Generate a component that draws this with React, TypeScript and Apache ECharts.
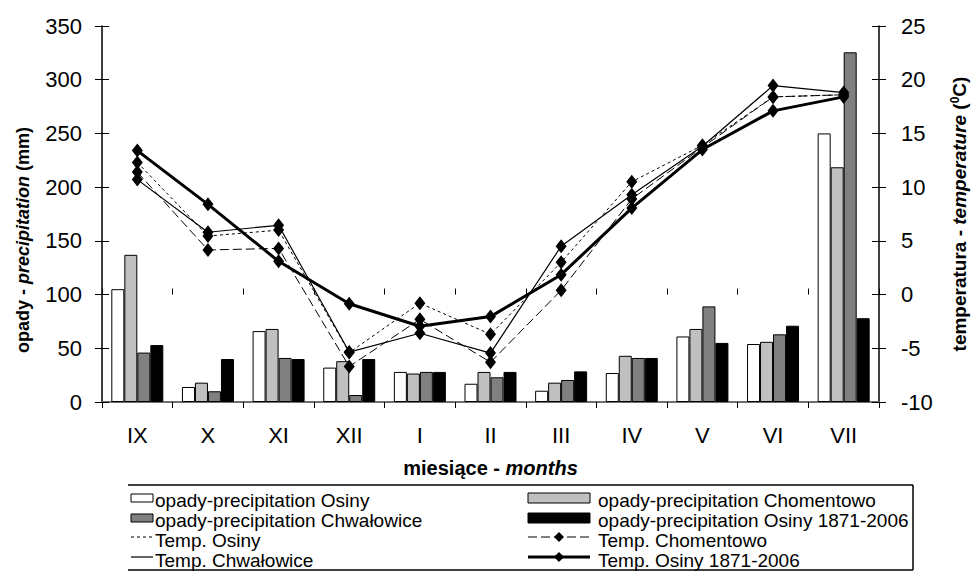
import React, { useEffect, useRef } from 'react';
import * as echarts from 'echarts';

const months = ['IX', 'X', 'XI', 'XII', 'I', 'II', 'III', 'IV', 'V', 'VI', 'VII'];

const precipOsiny = [105, 14, 66, 32, 28, 17, 10.5, 27, 61, 54, 250];
const precipChomentowo = [137, 18, 68, 38, 26.5, 28, 18, 43, 68, 56, 218.5];
const precipChwalowice = [46, 10, 41, 6.5, 28, 23, 20.5, 41, 89, 63, 325.5];
const precipOsinyLong = [53, 40, 40, 40, 28, 28, 28.5, 41, 55, 71, 78];

const tempOsiny = [12.3, 5.45, 6.0, -5.4, -0.8, -3.7, 3.0, 10.5, 13.9, 18.4, 18.6];
const tempChomentowo = [11.4, 4.15, 4.3, -6.7, -2.3, -6.3, 0.4, 8.9, 13.7, 18.4, 18.6];
const tempChwalowice = [10.7, 5.8, 6.45, -5.35, -3.6, -5.45, 4.5, 9.3, 13.8, 19.45, 18.8];
const tempOsinyLong = [13.4, 8.4, 3.1, -0.85, -2.95, -2.05, 1.85, 8.05, 13.5, 17.1, 18.4];

const seriesNames = [
  'opady-precipitation Osiny',
  'opady-precipitation Chomentowo',
  'opady-precipitation Chwałowice',
  'opady-precipitation Osiny 1871-2006',
  'Temp. Osiny',
  'Temp. Chomentowo',
  'Temp. Chwałowice',
  'Temp. Osiny 1871-2006',
];

const FONT = '"Liberation Sans", Arial, sans-serif';

const barColors = ['#ffffff', '#c0c0c0', '#808080', '#000000'];
const lineDash: any[] = [[3, 3], [9, 4], 'solid', 'solid'];
const lineWidths = [1, 1, 1.2, 3];

export default function App() {
  const ref = useRef<HTMLDivElement>(null);

  useEffect(() => {
    if (!ref.current) return;
    const chart = echarts.init(ref.current, undefined, { renderer: 'svg' });

    const precip = [precipOsiny, precipChomentowo, precipChwalowice, precipOsinyLong];
    const temps = [tempOsiny, tempChomentowo, tempChwalowice, tempOsinyLong];

    const barSeries = precip.map((d, i) => ({
      name: seriesNames[i],
      type: 'bar',
      xAxisIndex: 0,
      yAxisIndex: 0,
      data: d,
      barWidth: 13,
      barGap: '0%',
      itemStyle: { color: barColors[i], borderColor: '#000', borderWidth: 1 },
      z: 2,
    }));

    const lineSeries = temps.map((d, i) => ({
      name: seriesNames[4 + i],
      type: 'line',
      xAxisIndex: 0,
      yAxisIndex: 1,
      data: d,
      symbol: 'diamond',
      symbolSize: [11, 14],
      itemStyle: { color: '#000' },
      lineStyle: { color: '#000', width: lineWidths[i], type: lineDash[i] },
      z: 5 + i,
    }));

    // legend drawn with graphic elements
    const LX1 = 131, LX2 = 153, LT = 155;
    const RX1 = 528, RX2 = 590, RT = 598;
    const rowY = [500, 520, 540, 560];
    const boxTop = 485, boxBottom = 570, boxLeft = 128, boxRight = 913;
    const graphics: any[] = [
      { type: 'line', shape: { x1: boxLeft, y1: boxTop, x2: boxRight, y2: boxTop }, style: { stroke: '#000', lineWidth: 1.5 } },
      { type: 'line', shape: { x1: boxLeft, y1: boxBottom, x2: boxRight, y2: boxBottom }, style: { stroke: '#000', lineWidth: 1.5 } },
      { type: 'line', shape: { x1: boxRight, y1: boxTop, x2: boxRight, y2: boxBottom }, style: { stroke: '#000', lineWidth: 1.5 } },
    ];
    seriesNames.forEach((name, idx) => {
      const col = idx % 2;
      const row = Math.floor(idx / 2);
      const y = rowY[row];
      const x1 = col === 0 ? LX1 : RX1;
      const x2 = col === 0 ? LX2 : RX2;
      const tx = col === 0 ? LT : RT;
      if (idx < 4) {
        const h = col === 0 ? 8 : 10;
        graphics.push({
          type: 'rect',
          shape: { x: x1, y: y - 2 - h / 2, width: x2 - x1, height: h },
          style: { fill: barColors[idx], stroke: '#000', lineWidth: 1 },
        });
      } else {
        const k = idx - 4;
        const dash = lineDash[k] === 'solid' ? null : lineDash[k];
        graphics.push({
          type: 'line',
          shape: { x1, y1: y - 3, x2, y2: y - 3 },
          style: { stroke: '#000', lineWidth: lineWidths[k], lineDash: dash },
        });
        if (col === 1) {
          const cx = (x1 + x2) / 2;
          graphics.push({
            type: 'polygon',
            shape: { points: [[cx, y - 8], [cx + 5, y - 3], [cx, y + 2], [cx - 5, y - 3]] },
            style: { fill: '#000' },
          });
        }
      }
      graphics.push({
        type: 'text',
        x: tx,
        y,
        style: { text: name, fontSize: 19, fontFamily: FONT, fill: '#000', verticalAlign: 'middle', align: 'left' },
      });
    });

    const axisCommon = {
      axisLine: { show: true, lineStyle: { color: '#000', width: 1.5 } },
      splitLine: { show: false },
    };

    const option: any = {
      animation: false,
      backgroundColor: '#fff',
      textStyle: { fontFamily: FONT },
      grid: { left: 102, right: 82, top: 26, bottom: 170, containLabel: false },
      xAxis: [
        {
          type: 'category',
          data: months,
          position: 'bottom',
          ...axisCommon,
          axisTick: { show: true, inside: false, length: 6, lineStyle: { color: '#000' } },
          axisLabel: { fontSize: 22, color: '#000', margin: 22, fontFamily: FONT },
          name: '{b|miesiące - }{bi|months}',
          nameLocation: 'middle',
          nameGap: 56,
          nameTextStyle: {
            rich: {
              b: { fontSize: 20, fontWeight: 'bold', fontFamily: FONT, color: '#000' },
              bi: { fontSize: 20, fontWeight: 'bold', fontStyle: 'italic', fontFamily: FONT, color: '#000' },
            },
          },
        },
        {
          type: 'category',
          data: months,
          position: 'bottom',
          axisLine: { show: false },
          axisTick: { show: true, inside: true, length: 6, lineStyle: { color: '#000' } },
          axisLabel: { show: false },
          splitLine: { show: false },
        },
        {
          type: 'category',
          data: months,
          position: 'top',
          axisLine: { show: true, lineStyle: { color: '#808080', width: 1.5 } },
          axisTick: { show: false },
          axisLabel: { show: false },
          splitLine: { show: false },
        },
      ],
      yAxis: [
        {
          type: 'value',
          min: 0,
          max: 350,
          interval: 50,
          position: 'left',
          ...axisCommon,
          axisTick: { show: true, inside: false, length: 7, lineStyle: { color: '#000' } },
          axisLabel: { fontSize: 22, color: '#000', margin: 20, fontFamily: FONT },
          name: '{b|opady - }{bi|precipitation}{b| (mm)}',
          nameLocation: 'middle',
          nameRotate: 90,
          nameGap: 70,
          nameTextStyle: {
            padding: [0, 52, 0, 0],
            rich: {
              b: { fontSize: 18, fontWeight: 'bold', fontFamily: FONT, color: '#000' },
              bi: { fontSize: 18, fontWeight: 'bold', fontStyle: 'italic', fontFamily: FONT, color: '#000' },
            },
          },
        },
        {
          type: 'value',
          min: -10,
          max: 25,
          interval: 5,
          position: 'right',
          ...axisCommon,
          axisTick: { show: true, inside: false, length: 7, lineStyle: { color: '#000' } },
          axisLabel: { fontSize: 22, color: '#000', margin: 22, fontFamily: FONT },
          name: '{b|temperatura - }{bi|temperature}{b| (}{sup|0}{b|C)}',
          nameLocation: 'middle',
          nameRotate: 90,
          nameGap: 70,
          nameTextStyle: {
            rich: {
              b: { fontSize: 19, fontWeight: 'bold', fontFamily: FONT, color: '#000', lineHeight: 21 },
              bi: { fontSize: 19, fontWeight: 'bold', fontStyle: 'italic', fontFamily: FONT, color: '#000', lineHeight: 21 },
              sup: { fontSize: 12, fontWeight: 'bold', fontFamily: FONT, color: '#000', verticalAlign: 'top', lineHeight: 21 },
            },
          },
        },
        {
          type: 'value',
          min: 0,
          max: 350,
          interval: 50,
          position: 'left',
          axisLine: { show: false },
          axisTick: { show: true, inside: true, length: 7, lineStyle: { color: '#000' } },
          axisLabel: { show: false },
          splitLine: { show: false },
        },
        {
          type: 'value',
          min: -10,
          max: 25,
          interval: 5,
          position: 'right',
          axisLine: { show: false },
          axisTick: { show: true, inside: true, length: 7, lineStyle: { color: '#000' } },
          axisLabel: { show: false },
          splitLine: { show: false },
        },
      ],
      series: [...barSeries, ...lineSeries],
      graphic: graphics,
    };

    chart.setOption(option);
    return () => chart.dispose();
  }, []);

  return (
    <div
      ref={ref}
      style={{ position: 'fixed', left: 0, top: 0, width: 977, height: 572, background: '#fff' }}
    />
  );
}
